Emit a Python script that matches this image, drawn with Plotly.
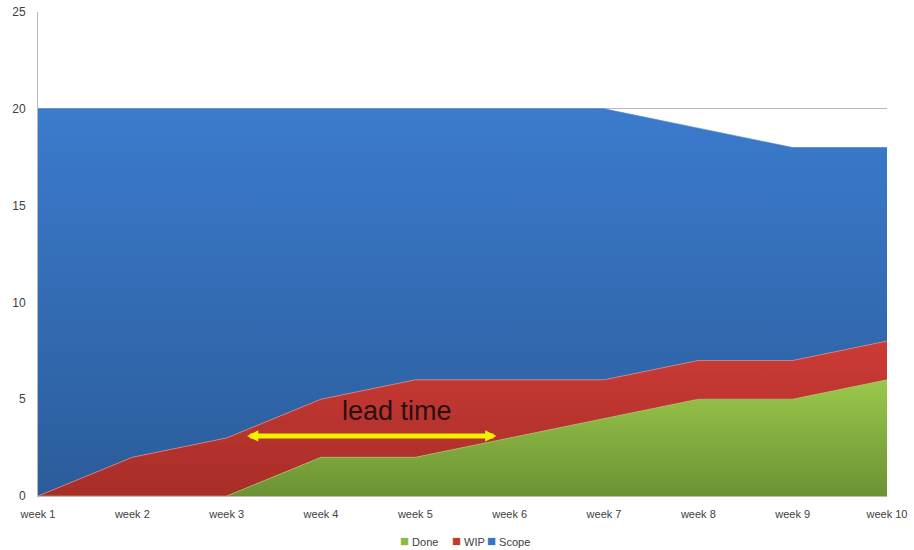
import plotly.graph_objects as go

weeks = ["week 1", "week 2", "week 3", "week 4", "week 5", "week 6", "week 7", "week 8", "week 9", "week 10"]
done = [0, 0, 0, 2, 2, 3, 4, 5, 5, 6]
wip = [0, 2, 3, 3, 4, 3, 2, 2, 2, 2]
scope = [20, 18, 17, 15, 14, 14, 14, 12, 11, 10]
y_ticks = [0, 5, 10, 15, 20, 25]
series_names = ["Done", "WIP", "Scope"]
legend_colors = ["#8bbb45", "#c8372f", "#3774c4"]

xs = list(range(len(weeks)))

fig = go.Figure()
fig.add_trace(go.Scatter(
    x=xs, y=done, name="Done", stackgroup="one", mode="lines",
    line=dict(width=0.6, color="#a8cf6a"), fillcolor="#86b043",
    fillgradient=dict(type="vertical", start=0, stop=6,
                      colorscale=[[0, "#6b9234"], [1, "#9ac84b"]]),
))
fig.add_trace(go.Scatter(
    x=xs, y=wip, name="WIP", stackgroup="one", mode="lines",
    line=dict(width=0.8, color="#d7817d"), fillcolor="#c03a33",
    fillgradient=dict(type="vertical", start=0, stop=8,
                      colorscale=[[0, "#a82d28"], [1, "#cc3b36"]]),
))
fig.add_trace(go.Scatter(
    x=xs, y=scope, name="Scope", stackgroup="one", mode="lines",
    line=dict(width=0.6, color="#3b7bcc"), fillcolor="#3470b8",
    fillgradient=dict(type="vertical", start=0, stop=20,
                      colorscale=[[0, "#2b5c9a"], [1, "#3b7bcd"]]),
))

# legend drawn as text annotations (compact, like the original)
# plot area spans x 38..887 px, y 12..496 px
legend_px = [398, 450, 485]
for nm, col, lx in zip(series_names, legend_colors, legend_px):
    fig.add_annotation(
        x=(lx - 38) / 849, y=(496 - 540) / 484, xref="paper", yref="paper",
        xanchor="left", yanchor="middle", showarrow=False,
        text=f"<span style='color:{col};font-size:15px'>■</span> {nm}",
        font=dict(family="Liberation Sans, Arial", size=11, color="#404040"),
    )

fig.add_annotation(
    x=4.86, y=3.1, ax=2.2, ay=3.1, xref="x", yref="y", axref="x", ayref="y",
    showarrow=True, arrowhead=2, startarrowhead=2, arrowside="end+start",
    arrowsize=0.45, startarrowsize=0.45, arrowwidth=5, arrowcolor="#f2f200", text="",
)
fig.add_annotation(
    x=3.81, y=4.4, xref="x", yref="y", text="lead time", showarrow=False,
    font=dict(family="Liberation Sans, Arial", size=27, color="#2a1010"),
)

fig.update_layout(
    width=914, height=550,
    margin=dict(l=38, r=27, t=12, b=54, autoexpand=False),
    paper_bgcolor="white", plot_bgcolor="white",
    showlegend=False,
    font=dict(family="Liberation Sans, Arial", size=11, color="#404040"),
)
fig.update_xaxes(
    range=[0, 9], tickvals=xs, ticktext=weeks, showgrid=False, automargin=False,
    showline=True, linecolor="#b8b8b8", linewidth=1, ticks="outside", ticklen=8,
    tickcolor="rgba(0,0,0,0)", zeroline=False,
    tickfont=dict(size=11, color="#404040"),
)
fig.update_yaxes(
    range=[0, 25], tickvals=y_ticks, showgrid=True, gridcolor="#b8b8b8", gridwidth=1, automargin=False,
    showline=True, linecolor="#b8b8b8", linewidth=1, ticks="outside", ticklen=9,
    tickcolor="rgba(0,0,0,0)", zeroline=False,
    tickfont=dict(size=12, color="#404040"),
)

fig.write_html("out.html")
